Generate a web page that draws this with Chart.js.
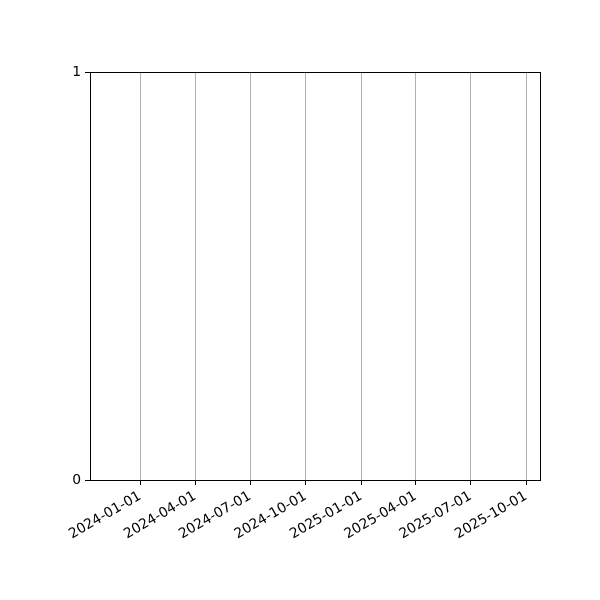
<!DOCTYPE html>
<html>
<head>
<meta charset="utf-8">
<script src="https://cdn.jsdelivr.net/npm/chart.js@4.4.0/dist/chart.umd.min.js"></script>
<style>
  html, body { margin: 0; padding: 0; background: #fff; }
</style>
</head>
<body>
<canvas id="chart" width="600" height="600"></canvas>
<script>
// --- DATA ---
const xLimits = ['2023-10-10', '2025-10-24'];
const dateTicks = ['2024-01-01', '2024-04-01', '2024-07-01', '2024-10-01',
                   '2025-01-01', '2025-04-01', '2025-07-01', '2025-10-01'];
const yTicks = [0, 1];
const seriesDates = [];
const seriesValues = [];

const DAY = 86400000;
function toDays(s) {
    const p = s.split('-').map(Number);
    return Date.UTC(p[0], p[1] - 1, p[2]) / DAY;
}
function fmtDay(d) {
    return new Date(Math.round(d) * DAY).toISOString().slice(0, 10);
}

// box around the plot area (matplotlib spines)
const frame = {
    id: 'frame',
    afterDraw(chart) {
        const a = chart.chartArea, c = chart.ctx;
        c.save();
        c.strokeStyle = '#000';
        c.lineWidth = 1;
        c.strokeRect(Math.round(a.left) + 0.5, Math.round(a.top) + 0.5,
                     Math.round(a.right - a.left), Math.round(a.bottom - a.top));
        c.restore();
    }
};

const font = { family: 'DejaVu Sans', size: 13.9 };

new Chart(document.getElementById('chart'), {
    type: 'line',
    data: {
        datasets: [{
            data: seriesDates.map((d, i) => ({ x: toDays(d), y: seriesValues[i] })),
            borderColor: '#1f77b4'
        }]
    },
    options: {
        responsive: false,
        animation: false,
        devicePixelRatio: 1,
        layout: { padding: { left: 0, right: 60, top: 72, bottom: 0 } },
        plugins: { legend: { display: false }, tooltip: { enabled: false } },
        scales: {
            x: {
                type: 'linear',
                min: toDays(xLimits[0]),
                max: toDays(xLimits[1]),
                afterBuildTicks: s => { s.ticks = dateTicks.map(d => ({ value: toDays(d) })); },
                afterFit: s => { s.height = 120; },
                border: { display: false },
                grid: { color: '#b0b0b0', lineWidth: 1, tickColor: '#000', tickLength: 5 },
                ticks: {
                    color: '#000', font: font, padding: 3,
                    minRotation: 30, maxRotation: 30, autoSkip: false,
                    callback: v => fmtDay(v)
                }
            },
            y: {
                min: 0,
                max: 1,
                afterBuildTicks: s => { s.ticks = yTicks.map(v => ({ value: v })); },
                afterFit: s => { s.width = 90; },
                border: { display: false },
                grid: { color: 'rgba(0,0,0,0)', tickColor: '#000', tickLength: 5 },
                ticks: { color: '#000', font: font, padding: 4 }
            }
        }
    },
    plugins: [frame]
});
</script>
</body>
</html>
